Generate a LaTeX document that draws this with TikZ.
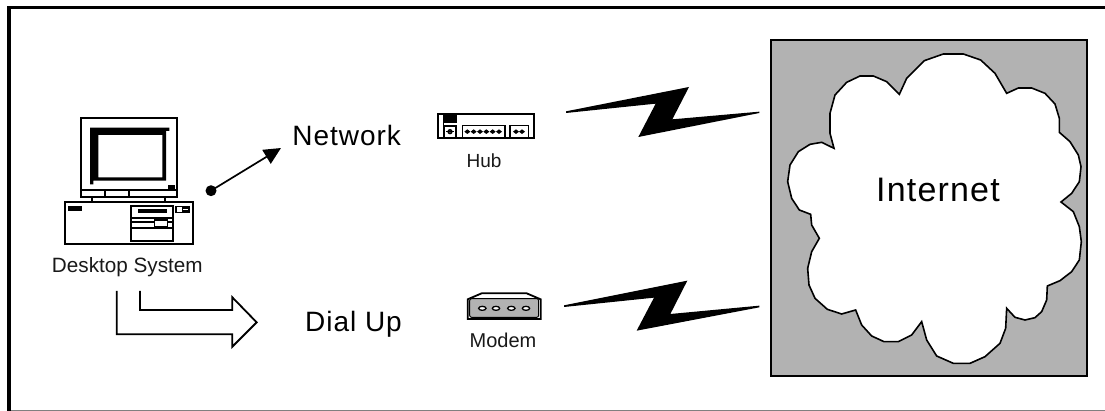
\documentclass[tikz,border=0pt]{standalone}
\usepackage{fontspec}
\usetikzlibrary{arrows.meta}
\setmainfont{Liberation Sans}
\newfontfamily\spacedfont[LetterSpace=3.5]{Liberation Sans}
\definecolor{cloudgrey}{HTML}{B2B2B2}
\definecolor{edgegrey}{HTML}{808080}
\tikzset{
  zoomed/.style={x=0.33333pt,y=-0.33333pt},
  biglabel/.style={anchor=base,inner sep=0pt,font=\spacedfont\fontsize{28}{32}\selectfont},
  smalllabel/.style={anchor=base,inner sep=0pt,text=black!90},
  ink/.style={draw=black,line width=1.8pt,line join=miter},
  netarrow/.style={line width=1.7pt,-{Triangle[length=17pt,width=16pt]},shorten <=-1pt}
}
\begin{document}
\begin{tikzpicture}[x=1pt,y=-1pt]
\useasboundingbox (0,0) rectangle (1105,411);
\fill[white] (0,0) rectangle (1105,411);
% page frame
\draw[edgegrey,line width=1.2pt] (9,410.3) -- (1105,410.3);
\draw[black,line width=3.5pt] (1105,7.7) -- (8.8,7.7) -- (8.8,411);
% internet panel
\begin{scope}[shift={(740,30)},zoomed]
\draw[ink,fill=cloudgrey] (93,30) rectangle (1042,1037);
\draw[ink,fill=white,line width=1.6pt] (478,193)--(500,145)--(553,92)--(610,72)--(670,72)--(722,90)--(765,130)--(800,190)--(835,174)--(875,174)--(915,190)--(945,222)--(958,265)--(958,307)--(990,335)--(1015,375)--(1023,410)--(1018,455)--(995,490)--(963,516)--(1000,545)--(1018,590)--(1024,635)--(1018,690)--(995,725)--(960,752)--(922,768)--(920,810)--(905,845)--(885,863)--(855,870)--(825,862)--(800,835)--(797,895)--(780,940)--(735,980)--(690,1000)--(640,1000)--(590,978)--(560,930)--(545,875)--(515,915)--(475,935)--(432,935)--(395,918)--(365,885)--(347,840)--(305,852)--(262,838)--(225,805)--(207,765)--(203,715)--(215,665)--(238,625)--(215,585)--(212,553)--(178,540)--(155,505)--(143,455)--(150,405)--(175,365)--(210,343)--(245,337)--(282,355)--(270,310)--(270,250)--(285,195)--(320,157)--(360,138)--(400,138)--(440,155)--cycle;
\end{scope}
\node[anchor=base,inner sep=0pt,font=\spacedfont\fontsize{34}{38}\selectfont] (internet) at (938,201.7) {Internet};
% bolts
\begin{scope}[shift={(555,75)},zoomed]
\fill[black] (33,109)--(402,36)--(352,133)--(613,110)--(613,114)--(250,186)--(302,86)--(33,114)--cycle;
\end{scope}
\begin{scope}[shift={(555,275)},zoomed]
\fill[black] (27,91)--(397,17)--(346,117)--(613,92)--(613,97)--(245,167)--(297,68)--(27,96)--cycle;
\end{scope}
% desktop computer
\begin{scope}[shift={(30,100)},zoomed]
\draw[ink] (152,53) rectangle (440,290);
\draw[ink] (152,270) -- (440,270);
\draw[ink] (224,270) -- (224,290) (298,270) -- (298,290);
\fill[black,even odd rule] (180,83)--(418,83)--(418,93)--(408,93)--(408,242)--(190,242)--(190,253)--(180,253)--cycle (205,105) rectangle (397,232);
\fill[black] (414,255) rectangle (436,268);
\draw[ink] (187,290) -- (187,305) (405,290) -- (405,305);
\draw[ink] (104,305) rectangle (488,432);
\fill[black] (114,318) rectangle (156,332);
\draw[ink] (303,318) rectangle (428,422);
\fill[black] (323,328) rectangle (410,340);
\draw[ink] (303,355) -- (428,355) (303,367) -- (428,367) (303,385) -- (428,385);
\draw[ink,fill=white,line width=1.2pt] (373,360) rectangle (412,380);
\draw[ink,fill=black,line width=1pt] (437,319) rectangle (477,337);
\fill[white] (441,322) rectangle (456,335);
\fill[white] (460,327) rectangle (474,329);
\end{scope}
\node[smalllabel,font=\fontsize{20.7}{24}\selectfont] (desktop) at (127.3,273) {Desktop System};
% network arrow
\node[circle,fill=black,inner sep=0pt,minimum size=11pt] (netdot) at (211,190.7) {};
\coordinate (nettip) at (281,148);
\draw[netarrow] (netdot) -- (nettip);
\node[biglabel] (network) at (346.7,146) {Network};
% dial-up outline arrow
\begin{scope}[shift={(0,270)},zoomed]
\draw[ink,line join=miter] (350,63)--(350,193)--(697,193)--(697,230)--(770,157)--(697,82)--(697,120)--(420,120)--(420,63);
\end{scope}
\node[biglabel] (dialup) at (353.5,331.7) {Dial Up};
% hub
\begin{scope}[shift={(420,90)},zoomed]
\draw[ink] (53,71) rectangle (343,145);
\fill[black] (70,76) rectangle (110,98);
\draw[ink,line width=1.4pt] (70,71) -- (70,108) -- (108,108) -- (108,145) (72,108) -- (72,145);
\draw[ink,line width=1.4pt] (128,145) -- (128,106) -- (255,106) -- (255,145);
\draw[ink,line width=1.4pt] (270,145) -- (270,106) -- (325,106) -- (325,145);
\fill[black] (90,125) circle (8);
\fill[white] (90,125) circle (3);
\draw[black,line width=0.9pt] (78,125) -- (102,125);
\foreach \px in {142,161,180,199,218,237,288,306} {\fill[black] (\px,118)--(\px+9,125)--(\px,132)--(\px-9,125)--cycle;}
\end{scope}
\node[smalllabel,font=\fontsize{19}{22}\selectfont] (hub) at (484,168) {Hub};
% modem
\begin{scope}[shift={(420,280)},zoomed]
\draw[ink,fill=white] (143,117)--(143,58)--(185,40)--(320,40)--(362,58)--(362,117)--cycle;
\draw[black,line width=1pt,fill=cloudgrey,rounded corners=2pt] (149,56) -- (356,56) -- (356,112) -- (149,112) -- cycle;
\foreach \px in {187,228,274,318} {\draw[black,line width=1.3pt,fill=white] (\px,85) ellipse (11 and 6);}
\end{scope}
\node[smalllabel,font=\fontsize{20}{24}\selectfont] (modem) at (503,348) {Modem};
\end{tikzpicture}
\end{document}
